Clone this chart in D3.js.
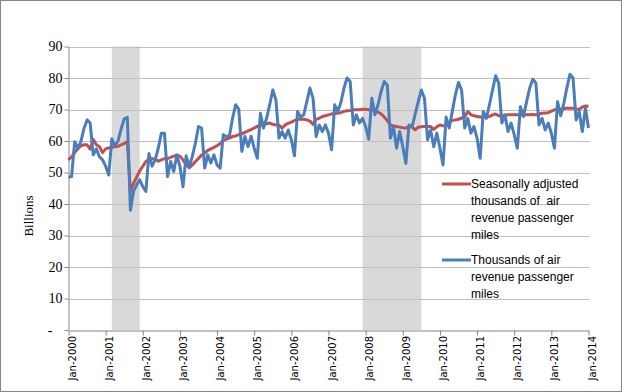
<!DOCTYPE html>
<html>
<head>
<meta charset="utf-8">
<script src="https://cdn.jsdelivr.net/npm/d3@7"></script>
<style>
  body { margin: 0; background: #fff; }
</style>
</head>
<body>
<div id="chart"></div>
<script>
// tick labels, one per January
var tickLabels = ["Jan-2000", "Jan-2001", "Jan-2002", "Jan-2003", "Jan-2004", "Jan-2005", "Jan-2006",
  "Jan-2007", "Jan-2008", "Jan-2009", "Jan-2010", "Jan-2011", "Jan-2012", "Jan-2013", "Jan-2014"];
var yTicks = [0, 10, 20, 30, 40, 50, 60, 70, 80, 90];

// recession bands, in months since Jan-2000 (start, end)
var recessions = [[14, 23], [95, 114]];

// seasonally adjusted, billions (monthly Jan-2000 .. Jan-2014)
var seasonal = [
  54, 55, 56.3, 57.5, 58.5, 58.8, 58.8, 57.4, 60.5, 58.8, 58.2, 56.3,
  57.5, 57.8, 58, 58.2, 58.3, 58.8, 59.2, 59.8, 44, 46.5, 48.5, 50.5,
  52, 53.5, 54.2, 54.4, 54.2, 53.6, 54, 54.4, 54.4, 54.8, 55.2, 55.5,
  55.2, 54, 52.5, 51.5, 52.4, 53.5, 54.5, 55.5, 56.2, 57, 57.5, 58,
  58.5, 59.2, 60.2, 60.6, 60.9, 61.4, 61.6, 62, 62.3, 62.7, 63.2, 63.6,
  64.2, 64.6, 65, 65.1, 65.5, 65.7, 65.3, 65.1, 65.1, 64.1, 65.1, 65.6,
  66, 66.5, 66.9, 66.9, 66.9, 66.7, 66.3, 65.3, 66.9, 67.2, 67.8, 68,
  68.3, 68.6, 68.8, 68.8, 69, 69.4, 69.6, 69.7, 69.9, 69.9, 69.9, 70.1,
  70.1, 69.9, 69.9, 69.9, 69.2, 68.6, 67.6, 66.5, 65.1, 64.8, 64.6, 64.4,
  64.2, 64.1, 64.6, 64.4, 63.5, 64.4, 64.5, 64.6, 64.6, 64.6, 63.7, 64.5,
  65.1, 64.8, 65, 66, 66.5, 66.7, 66.9, 67.3, 67.6, 69.4, 68.3, 68,
  67.8, 67.6, 67.6, 67.7, 67.8, 68.3, 68.6, 68, 68, 68.2, 68.3, 68.3,
  68.3, 68.3, 68.3, 68.3, 68.3, 68.3, 68.4, 68.3, 68.5, 68.8, 68.9, 69,
  69.5, 69.9, 70, 70.1, 70.3, 70.4, 70.4, 70.4, 70.2, 70.1, 70.8, 71.1,
  71
];

// not adjusted, billions
var actual = [
  48.5, 48.7, 59.8, 57.7, 59.8, 64, 66.7, 65.7, 55.6, 57.5, 55, 54,
  52, 49.2, 60.7, 58.5, 60, 63.8, 67, 67.5, 38, 44, 46, 47.7,
  45.5, 44, 56, 52, 54, 57.7, 62.5, 62.5, 48.7, 53.5, 50.3, 55.6,
  51.9, 45.5, 55.3, 51.9, 55.1, 59.3, 64.6, 64.1, 51.4, 55.6, 53, 55.6,
  52.4, 51.4, 62, 61.4, 61.6, 67.2, 71.5, 70.1, 56.7, 61.4, 58.2, 61.5,
  57.7, 54.5, 68.8, 64.1, 67.2, 71.5, 76.2, 73.1, 60.9, 63, 60.9, 63.5,
  60.4, 55.3, 69.4, 67.6, 68.3, 72.5, 76.8, 73.6, 61.4, 65.1, 63, 65.1,
  62.5, 57.2, 71.5, 69.4, 72.2, 76.8, 80, 78.9, 65.1, 68.3, 65.7, 67.2,
  64.6, 60.6, 73.6, 68.3, 71.5, 75.7, 78.9, 77.8, 60.9, 64.6, 57.7, 63,
  58.2, 52.9, 65.1, 64.5, 68.5, 72.5, 76.2, 73.6, 60.4, 63.5, 58.2, 62.5,
  57.7, 52.4, 67.6, 64.1, 69.4, 74.7, 78.6, 76.2, 64.1, 67.2, 62.5, 64.6,
  60.9, 54.5, 69.4, 67.2, 71.5, 76.2, 80.7, 78.4, 65.7, 68.3, 63, 65.7,
  62, 57.7, 70.9, 67.8, 72.5, 76.8, 79.6, 78.4, 65.1, 67.2, 63.5, 65.7,
  62.5, 57.7, 72.5, 68, 71.8, 76.8, 81.2, 80, 66.7, 69.4, 63, 70.4,
  64.1
];

var seriesNames = [
  ["Seasonally adjusted", "thousands of\u00a0 air", "revenue passenger", "miles"],
  ["Thousands of air", "revenue passenger", "miles"]
];
var colors = ["#c0504d", "#4a7ebb"];

var width = 622, height = 392;

var svg = d3.select("#chart")
  .append("svg")
  .attr("width", width)
  .attr("height", height);

// outer border
svg.append("rect")
  .attr("x", 0.5).attr("y", 0.5)
  .attr("width", width - 1).attr("height", height - 1)
  .style("fill", "#fff")
  .style("stroke", "#868686");

var x = d3.scaleLinear().domain([0, 168]).range([68.5, 588.5]);
var y = d3.scaleLinear().domain([0, 90]).range([330, 46.5]);

// recession shading
svg.selectAll("rect.rec")
  .data(recessions)
  .enter()
  .append("rect")
  .attr("class", "rec")
  .attr("x", d => x(d[0]))
  .attr("width", d => x(d[1]) - x(d[0]))
  .attr("y", y(90))
  .attr("height", y(0) - y(90))
  .style("fill", "#d9d9d9");

// gridlines
svg.selectAll("line.grid")
  .data(yTicks.slice(1))
  .enter()
  .append("line")
  .attr("class", "grid")
  .attr("x1", 68.5).attr("x2", 590)
  .attr("y1", d => Math.round(y(d)) + 0.5)
  .attr("y2", d => Math.round(y(d)) + 0.5)
  .style("stroke", "#c0c0c0");

// y axis
var yAxis = d3.axisLeft(y)
  .tickValues(yTicks)
  .tickSize(4)
  .tickSizeOuter(0)
  .tickFormat(d => d === 0 ? "-" : d);
var gy = svg.append("g")
  .attr("transform", "translate(68.5,0)")
  .call(yAxis);
gy.select(".domain").style("stroke", "#868686");
gy.selectAll(".tick line").style("stroke", "#868686");
gy.selectAll(".tick text")
  .attr("x", -6)
  .attr("dx", d => d === 0 ? "-10px" : "0")
  .style("font-family", "'Liberation Serif', 'Times New Roman', serif")
  .style("font-size", "14px")
  .style("fill", "#000");

// x axis
var xAxis = d3.axisBottom(x)
  .tickValues(d3.range(0, 169, 12))
  .tickSize(5)
  .tickSizeOuter(0)
  .tickFormat("");
var gx = svg.append("g")
  .attr("transform", "translate(0,330.5)")
  .call(xAxis);
gx.select(".domain").style("stroke", "#868686");
gx.selectAll(".tick line").style("stroke", "#868686");

svg.selectAll("text.xlab")
  .data(tickLabels)
  .enter()
  .append("text")
  .attr("class", "xlab")
  .attr("transform", (d, i) => "translate(" + (x(i * 12) + 7) + ",336)rotate(-90)")
  .style("text-anchor", "end")
  .style("font-family", "'DejaVu Sans', Verdana, sans-serif")
  .style("font-size", "10px")
  .style("fill", "#000")
  .text(d => d);

// y title
svg.append("text")
  .attr("transform", "translate(33,216)rotate(-90)")
  .style("text-anchor", "middle")
  .style("font-family", "'Liberation Serif', 'Times New Roman', serif")
  .style("font-size", "13px")
  .text("Billions");

// lines
var line = d3.line()
  .x((d, i) => x(i))
  .y(d => y(d));

[seasonal, actual].forEach(function (s, k) {
  svg.append("path")
    .datum(s)
    .attr("d", line)
    .style("fill", "none")
    .style("stroke", colors[k])
    .style("stroke-width", 3)
    .style("stroke-linejoin", "round");
});

// legend
var legY = [184, 260];
var legend = svg.selectAll(".legend")
  .data(seriesNames)
  .enter()
  .append("g")
  .attr("class", "legend")
  .attr("transform", (d, i) => "translate(0," + legY[i] + ")");

legend.append("line")
  .attr("x1", 442).attr("x2", 471)
  .attr("y1", 0).attr("y2", 0)
  .style("stroke", (d, i) => colors[i])
  .style("stroke-width", 3);

legend.append("text")
  .attr("x", 471)
  .attr("y", 4)
  .style("font-family", "'Liberation Sans', Arial, sans-serif")
  .style("font-size", "12px")
  .style("fill", "#000")
  .selectAll("tspan")
  .data(d => d)
  .enter()
  .append("tspan")
  .attr("x", 471)
  .attr("dy", (d, i) => i === 0 ? 0 : 17)
  .text(d => d);
</script>
</body>
</html>
